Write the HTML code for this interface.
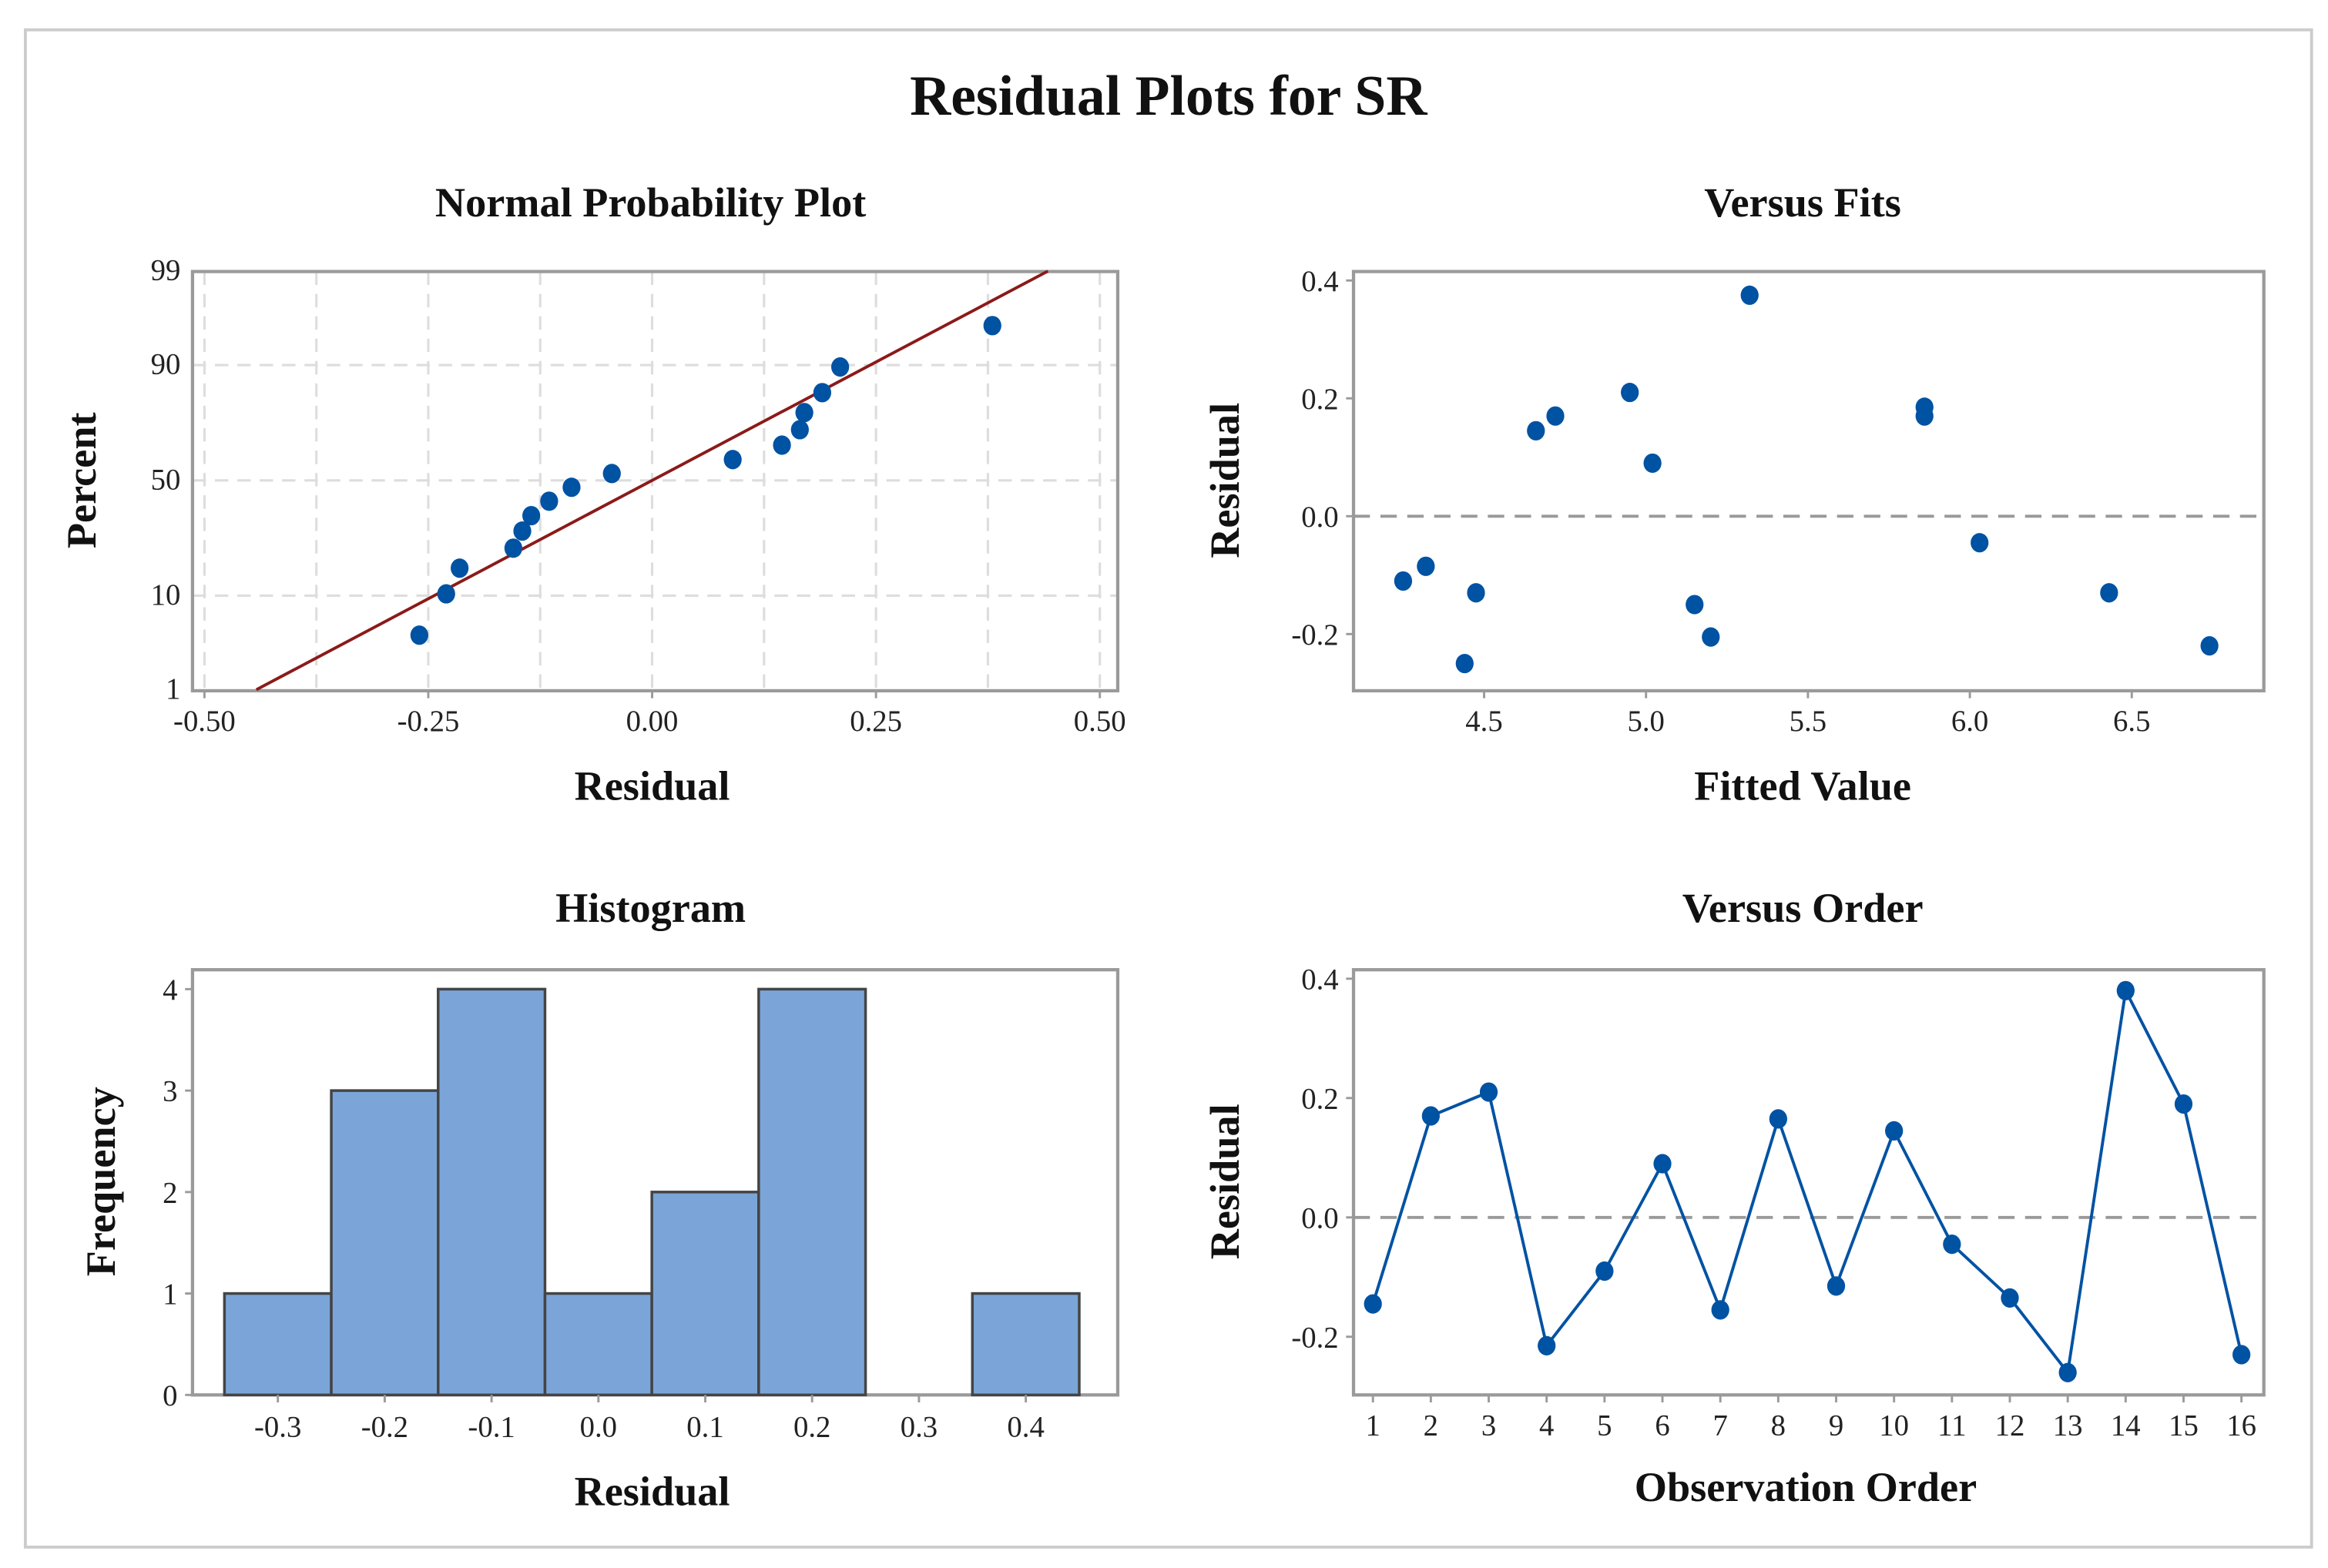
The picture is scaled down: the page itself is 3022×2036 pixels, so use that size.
<!DOCTYPE html>
<html><head><meta charset="utf-8"><style>
html,body{margin:0;padding:0;background:#fff;}
svg{display:block;}
text{font-family:"Liberation Serif",serif;fill:#111;}
.t{font-weight:bold;font-size:28px;}
.tk{font-size:20px;fill:#222;}
</style></head><body>
<svg id="c" width="3022" height="2036" viewBox="0 0 1560 1051" preserveAspectRatio="none" xmlns="http://www.w3.org/2000/svg">
<rect x="17" y="20" width="1532" height="1017" fill="#fff" stroke="#ccc" stroke-width="2"/>
<text x="783" y="77" text-anchor="middle" font-weight="bold" font-size="38">Residual Plots for SR</text>
<text class="t" x="436" y="145" text-anchor="middle">Normal Probability Plot</text>
<text class="t" x="1208" y="145" text-anchor="middle">Versus Fits</text>
<text class="t" x="436" y="618" text-anchor="middle">Histogram</text>
<text class="t" x="1208" y="618" text-anchor="middle">Versus Order</text>
<text class="t" x="437" y="536" text-anchor="middle">Residual</text>
<text class="t" x="1208" y="536" text-anchor="middle">Fitted Value</text>
<text class="t" x="437" y="1009" text-anchor="middle">Residual</text>
<text class="t" x="1210" y="1006" text-anchor="middle">Observation Order</text>
<text class="t" transform="translate(64,322) rotate(-90)" text-anchor="middle">Percent</text>
<text class="t" transform="translate(830,322) rotate(-90)" text-anchor="middle">Residual</text>
<text class="t" transform="translate(77,792) rotate(-90)" text-anchor="middle">Frequency</text>
<text class="t" transform="translate(830,792) rotate(-90)" text-anchor="middle">Residual</text>
<g id="g"></g>
</svg>
<script>
// data
const orderResiduals=[-0.145,0.17,0.21,-0.215,-0.09,0.09,-0.155,0.165,-0.115,0.145,-0.045,-0.135,-0.26,0.38,0.19,-0.23];
const fitValues=[4.25,4.32,4.44,4.475,4.66,4.72,4.95,5.02,5.15,5.2,5.32,5.86,5.86,6.03,6.43,6.74];
const fitResiduals=[-0.11,-0.085,-0.25,-0.13,0.145,0.17,0.21,0.09,-0.15,-0.205,0.375,0.185,0.17,-0.045,-0.13,-0.22];
const histBins=[-0.3,-0.2,-0.1,0.0,0.1,0.2,0.3,0.4];
const histFreq=[1,3,4,1,2,4,0,1];
const histTickLabels=["-0.3","-0.2","-0.1","0.0","0.1","0.2","0.3","0.4"];
const nppXTicks=[-0.5,-0.25,0,0.25,0.5];
const nppXTickLabels=["-0.50","-0.25","0.00","0.25","0.50"];
const nppYTicks=[1,10,50,90,99];
const fitXTicks=[4.5,5.0,5.5,6.0,6.5];
const fitXTickLabels=["4.5","5.0","5.5","6.0","6.5"];
const resYTicks=[-0.2,0,0.2,0.4];
const resYTickLabels=["-0.2","0.0","0.2","0.4"];
const histYTicks=[0,1,2,3,4];
const lineMean=0.0, lineSd=0.19;

const NS="http://www.w3.org/2000/svg";
const g=document.getElementById('g');
function mk(tag,attrs,name){const e=document.createElementNS(NS,tag);for(const k in attrs)e.setAttribute(k,attrs[k]);


g.appendChild(e);return e;}
function txt(x,y,s,anchor,name){const e=mk('text',{x:x,y:y,'text-anchor':anchor,class:'tk'},name);e.textContent=s;return e;}
function invNorm(p){const a=[-39.69683028665376,220.9460984245205,-275.9285104469687,138.357751867269,-30.66479806614716,2.506628277459239],
b=[-54.47609879822406,161.5858368580409,-155.6989798598866,66.80131188771972,-13.28068155288572],
c=[-0.007784894002430293,-0.3223964580411365,-2.400758277161838,-2.549732539343734,4.374664141464968,2.938163982698783],
d=[0.007784695709041462,0.3224671290700398,2.445134137142996,3.754408661907416];
const pl=0.02425;let q,r;
if(p<pl){q=Math.sqrt(-2*Math.log(p));return(((((c[0]*q+c[1])*q+c[2])*q+c[3])*q+c[4])*q+c[5])/((((d[0]*q+d[1])*q+d[2])*q+d[3])*q+1);}
if(p>1-pl){q=Math.sqrt(-2*Math.log(1-p));return-(((((c[0]*q+c[1])*q+c[2])*q+c[3])*q+c[4])*q+c[5])/((((d[0]*q+d[1])*q+d[2])*q+d[3])*q+1);}
q=p-0.5;r=q*q;return(((((a[0]*r+a[1])*r+a[2])*r+a[3])*r+a[4])*r+a[5])*q/(((((b[0]*r+b[1])*r+b[2])*r+b[3])*r+b[4])*r+1);}
const BLUE="#0052a3", FR="#9a9a9a";
function frame(x0,y0,x1,y1,name){mk('rect',{x:x0,y:y0,width:x1-x0,height:y1-y0,fill:'none',stroke:FR,'stroke-width':2.2},name);}

// ---- Normal probability plot ----
const nx=v=>437+600*v, ny=p=>322-60.3*invNorm(p/100);
const NX0=129,NX1=749,NY0=182,NY1=463;
for(let v=-0.5;v<=0.5001;v+=0.125){mk('line',{x1:nx(v),y1:NY0,x2:nx(v),y2:NY1,stroke:'#ddd','stroke-width':1.6,'stroke-dasharray':'9,6'},'npp-v-gridline');}
[10,50,90].forEach(p=>mk('line',{x1:NX0,y1:ny(p),x2:NX1,y2:ny(p),stroke:'#ddd','stroke-width':1.6,'stroke-dasharray':'9,6'},'npp-h-gridline'));
frame(NX0,NY0,NX1,NY1,'npp-frame');
nppXTicks.forEach((v,i)=>{mk('line',{x1:nx(v),y1:NY1,x2:nx(v),y2:NY1+5,stroke:FR,'stroke-width':1.5},'npp-x-tick');txt(nx(v),NY1+27,nppXTickLabels[i],'middle','npp-x-tick-label');});
nppYTicks.forEach(p=>{txt(NX0-8,ny(p)+6,String(p),'end','npp-y-tick-label');});
// fitted line clipped to frame
{const pLo=1,pHi=99;const xa=lineMean+lineSd*invNorm(pLo/100),xb=lineMean+lineSd*invNorm(pHi/100);
mk('line',{x1:nx(xa),y1:ny(pLo),x2:nx(xb),y2:ny(pHi),stroke:'#8b1a1a','stroke-width':2},'npp-fit-line');}
const sorted=orderResiduals.slice().sort((a,b)=>a-b);const n=sorted.length;
sorted.forEach((v,i)=>{const p=100*(i+1-0.3)/(n+0.4);mk('ellipse',{cx:nx(v),cy:ny(p),rx:6,ry:6.5,fill:BLUE},'npp-point');});

// ---- Versus fits ----
const FX0=907,FX1=1517,FY0=182,FY1=463;
const fx=f=>1103+(f-5)*217, fy=r=>346-395*r;
frame(FX0,FY0,FX1,FY1,'fits-frame');
mk('line',{x1:FX0,y1:fy(0),x2:FX1,y2:fy(0),stroke:'#999','stroke-width':2,'stroke-dasharray':'11,7'},'fits-zero-line');
fitXTicks.forEach((v,i)=>{mk('line',{x1:fx(v),y1:FY1,x2:fx(v),y2:FY1+5,stroke:FR,'stroke-width':1.5},'fits-x-tick');txt(fx(v),FY1+27,fitXTickLabels[i],'middle','fits-x-tick-label');});
resYTicks.forEach((v,i)=>{mk('line',{x1:FX0-5,y1:fy(v),x2:FX0,y2:fy(v),stroke:FR,'stroke-width':1.5},'fits-y-tick');txt(FX0-10,fy(v)+7,resYTickLabels[i],'end','fits-y-tick-label');});
fitValues.forEach((f,i)=>mk('ellipse',{cx:fx(f),cy:fy(fitResiduals[i]),rx:6,ry:6.5,fill:BLUE},'fits-point'));

// ---- Histogram ----
const HX0=129,HX1=749,HY0=650,HY1=935;
const hx=v=>401+716*v, hy=c=>935-68*c;
frame(HX0,HY0,HX1,HY1,'hist-frame');
histBins.forEach((b,i)=>{const x0=hx(b-0.05),x1=hx(b+0.05);
 mk('rect',{x:x0,y:hy(histFreq[i]),width:x1-x0,height:hy(0)-hy(histFreq[i]),fill:'#7ba5d8',stroke:'#444','stroke-width':1.8},'hist-bar');
 mk('line',{x1:hx(b),y1:HY1,x2:hx(b),y2:HY1+5,stroke:FR,'stroke-width':1.5},'hist-x-tick');
 txt(hx(b),HY1+28,histTickLabels[i],'middle','hist-x-tick-label');});
histYTicks.forEach(c=>{mk('line',{x1:HX0-5,y1:hy(c),x2:HX0,y2:hy(c),stroke:FR,'stroke-width':1.5},'hist-y-tick');txt(HX0-10,hy(c)+7,String(c),'end','hist-y-tick-label');});

// ---- Versus order ----
const OX0=907,OX1=1517,OY0=650,OY1=935;
const ox=i=>920+(i-1)*38.8, oy=r=>816-400*r;
frame(OX0,OY0,OX1,OY1,'order-frame');
mk('line',{x1:OX0,y1:oy(0),x2:OX1,y2:oy(0),stroke:'#999','stroke-width':2,'stroke-dasharray':'11,7'},'order-zero-line');
resYTicks.forEach((v,i)=>{mk('line',{x1:OX0-5,y1:oy(v),x2:OX0,y2:oy(v),stroke:FR,'stroke-width':1.5},'order-y-tick');txt(OX0-10,oy(v)+7,resYTickLabels[i],'end','order-y-tick-label');});
orderResiduals.forEach((r,i)=>{mk('line',{x1:ox(i+1),y1:OY1,x2:ox(i+1),y2:OY1+5,stroke:FR,'stroke-width':1.5},'order-x-tick');txt(ox(i+1),OY1+27,String(i+1),'middle','order-x-tick-label');});
mk('polyline',{points:orderResiduals.map((r,i)=>ox(i+1)+','+oy(r)).join(' '),fill:'none',stroke:BLUE,'stroke-width':2},'order-line');
orderResiduals.forEach((r,i)=>mk('ellipse',{cx:ox(i+1),cy:oy(r),rx:6,ry:6.5,fill:BLUE},'order-point'));
</script>
</body></html>
